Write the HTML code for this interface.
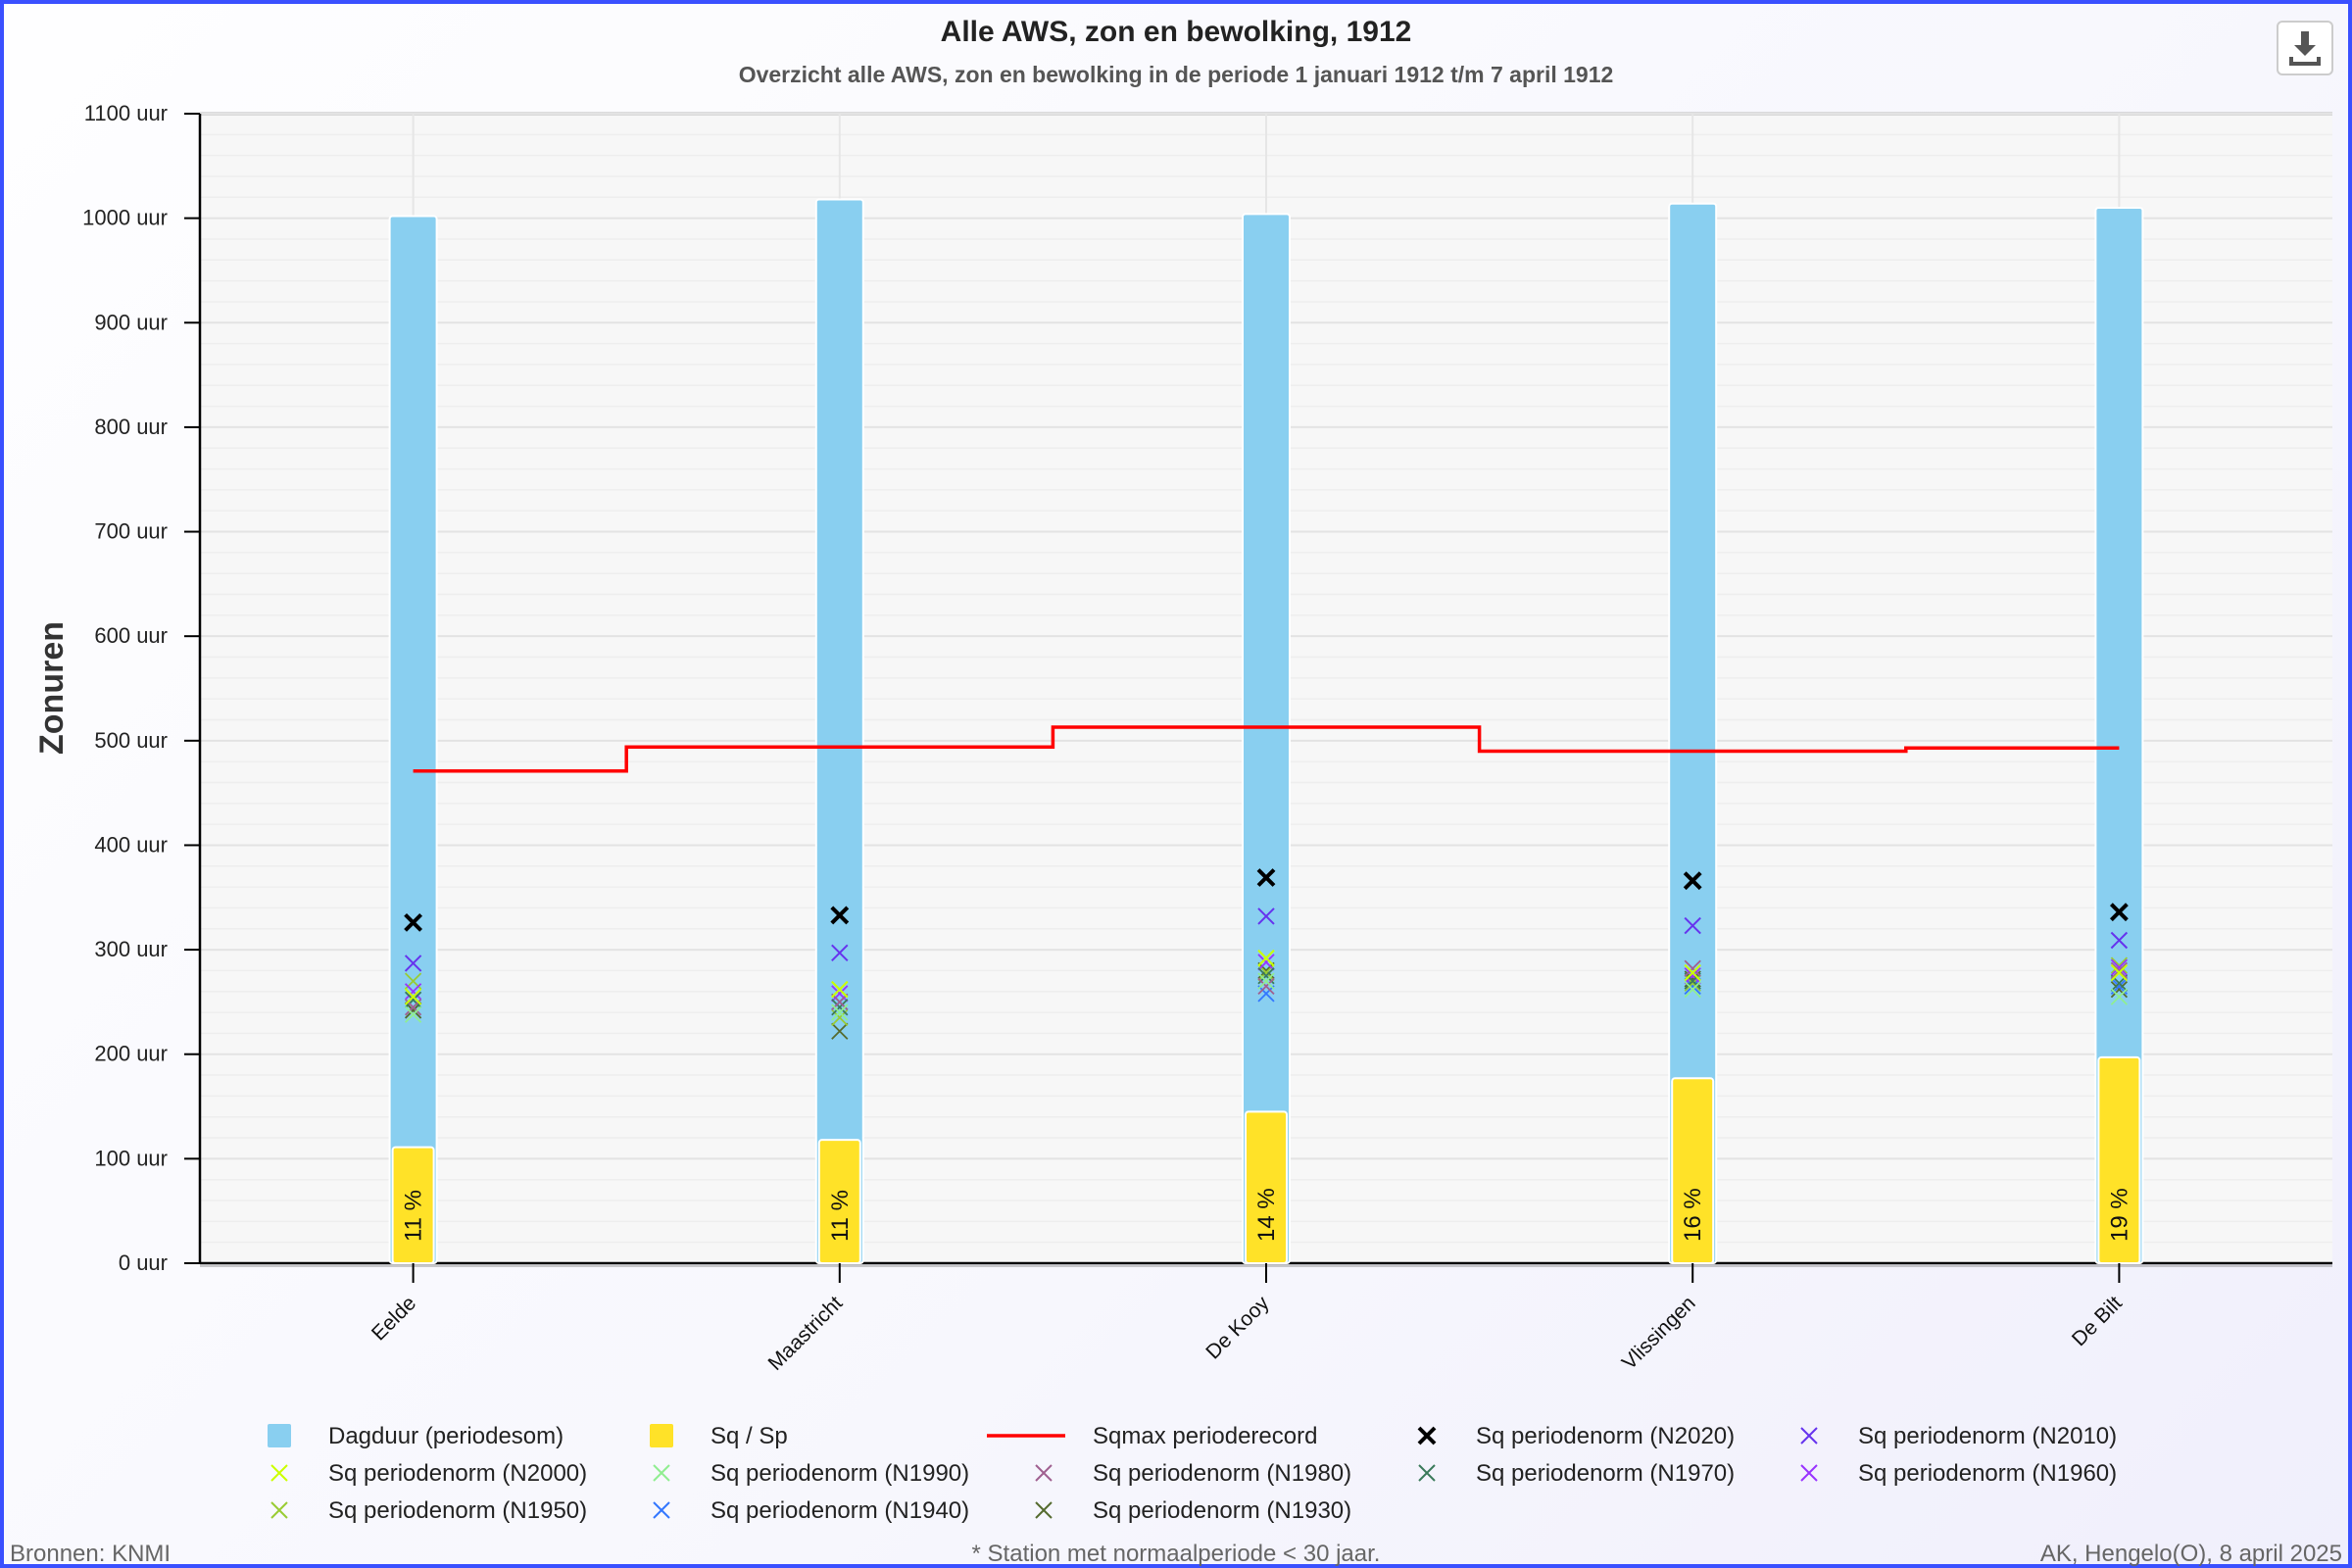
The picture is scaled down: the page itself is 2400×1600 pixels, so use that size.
<!DOCTYPE html>
<html><head><meta charset="utf-8"><style>
html,body{margin:0;padding:0;width:2400px;height:1600px;overflow:hidden;}
body{background:linear-gradient(135deg,#fefeff 0%,#f7f7fd 60%,#f0effc 100%);font-family:"Liberation Sans",sans-serif;}
#frame{position:absolute;left:0;top:0;width:2392px;height:1592px;border:4px solid #3a50ff;}
svg{position:absolute;left:0;top:0;}
</style></head><body>
<div id="frame"></div>
<svg id="chart" width="2400" height="1600" font-family="Liberation Sans, sans-serif"></svg>
<script>
const categories=["Eelde","Maastricht","De Kooy","Vlissingen","De Bilt"];
const dagduur=[1002,1018,1004,1014,1010];
const sq=[111,118,145,177,197];
const pct=["11 %","11 %","14 %","16 %","19 %"];
const sqmax=[471,494,513,490,493];
const n2020=[326,333,369,366,336];
const n2010=[287,297,332,323,309];
const n2000=[255,262,292,278,278];
const n1990=[238,240,270,262,255];
const n1980=[245,250,265,282,280];
const n1970=[252,245,275,270,268];
const n1960=[260,258,288,275,283];
const n1950=[270,235,278,268,285];
const n1940=[255,250,258,265,265];
const n1930=[242,222,280,272,262];
const yTicks=[0,100,200,300,400,500,600,700,800,900,1000,1100];
const yTickLabels=yTicks.map(v=>v+" uur");

const NS="http://www.w3.org/2000/svg";
const svg=document.getElementById('chart');
function mk(t,a,p){const e=document.createElementNS(NS,t);for(const k in a)e.setAttribute(k,a[k]);(p||svg).appendChild(e);return e;}
const L=204,R=2380,T=116,B=1289;
const yMax=1100;
function y(v){return B-(v/yMax)*(B-T);}
const cw=(R-L)/categories.length;
function x(i){return L+cw*(i+0.5);}

let t=mk('text',{x:1200,y:42,'text-anchor':'middle','font-size':30,'font-weight':'bold',fill:'#222'});t.textContent="Alle AWS, zon en bewolking, 1912";

t=mk('text',{x:1200,y:84,'text-anchor':'middle','font-size':23,'font-weight':'bold',fill:'#555'});t.textContent="Overzicht alle AWS, zon en bewolking in de periode 1 januari 1912 t/m 7 april 1912";


const dl=mk('g',{});

mk('rect',{x:2324,y:22,width:56,height:54,rx:5,fill:'#fff',stroke:'#ccc','stroke-width':2},dl);
mk('path',{d:'M2348 32h8v14h7l-11 11-11-11h7z',fill:'#555'},dl);
mk('path',{d:'M2336 58h4v5h24v-5h4v9h-32z',fill:'#555'},dl);

const bg=mk('rect',{x:L,y:T,width:R-L,height:B-T,fill:'#f7f7f7'});

mk('line',{x1:L,y1:T,x2:R,y2:T,stroke:'#bbb','stroke-width':3});
for(let v=0;v<=yMax;v+=20){mk('line',{x1:L,y1:y(v),x2:R,y2:y(v),stroke:v%100===0?'#e3e3e3':'#eeeeee','stroke-width':v%100===0?2:1.5});}
categories.forEach((c,i)=>{mk('line',{x1:x(i),y1:T,x2:x(i),y2:B,stroke:'#e6e6e6','stroke-width':2});});

mk('line',{x1:L,y1:T,x2:L,y2:B,stroke:'#000','stroke-width':2.5});
mk('line',{x1:L,y1:B,x2:R,y2:B,stroke:'#000','stroke-width':2.5});
mk('line',{x1:L,y1:B+3,x2:R,y2:B+3,stroke:'#999','stroke-width':2,opacity:0.5});
yTicks.forEach((v,i)=>{
 mk('line',{x1:L-16,y1:y(v),x2:L,y2:y(v),stroke:'#000','stroke-width':2});
 const tx=mk('text',{x:L-33,y:y(v)+7,'text-anchor':'end','font-size':22,fill:'#222'});tx.textContent=yTickLabels[i];
 
});
t=mk('text',{x:0,y:0,'text-anchor':'middle','font-size':34,'font-weight':'bold',fill:'#333',transform:'translate(64,702) rotate(-90)'});t.textContent="Zonuren";


categories.forEach((c,i)=>{
 const cx=x(i);
 const b=mk('rect',{x:cx-24,y:y(dagduur[i]),width:48,height:B-y(dagduur[i]),rx:3,fill:'#89cff0',stroke:'#fff','stroke-width':2});
 
 const s=mk('rect',{x:cx-21,y:y(sq[i]),width:42,height:B-y(sq[i]),rx:3,fill:'#ffe228',stroke:'#fff','stroke-width':2});
 
 const pl=mk('text',{x:0,y:0,'font-size':24,fill:'#111',transform:`translate(${cx+8},${B-22}) rotate(-90)`});pl.textContent=pct[i];
 
 mk('line',{x1:cx,y1:B,x2:cx,y2:B+20,stroke:'#000','stroke-width':2});
 const xl=mk('text',{x:0,y:0,'text-anchor':'end','font-size':21,fill:'#111',transform:`translate(${cx+4},${B+42}) rotate(-45)`});xl.textContent=c;
 
});

let d='';
sqmax.forEach((v,i)=>{
 const x0=i===0?x(0):L+cw*i, x1=i===sqmax.length-1?x(i):L+cw*(i+1);
 d+=(i===0?'M':'L')+x0+' '+y(v)+'L'+x1+' '+y(v);
});
const sl=mk('path',{d:d,fill:'none',stroke:'#ff0000','stroke-width':3.5});


const series=[
 [n1930,'#556b2f',1.8],[n1940,'#3377ff',1.8],[n1950,'#99cc33',1.8],[n1960,'#9933ff',1.8],[n1970,'#3a7a5a',1.8],
 [n1980,'#a06090',1.8],[n1990,'#90ee90',1.8],[n2000,'#ccff00',2],[n2010,'#6633ee',2],[n2020,'#000000',4]];
function cross(g,cx,cy,r,col,w){mk('path',{d:`M${cx-r} ${cy-r}L${cx+r} ${cy+r}M${cx+r} ${cy-r}L${cx-r} ${cy+r}`,stroke:col,'stroke-width':w,fill:'none'},g);}
series.forEach(s=>{
 s[0].forEach((v,i)=>{
  const g=mk('g',{});
  
  cross(g,x(i),y(v),8,s[1],s[2]);
 });
});

const legend=[
 ['rect','#89cff0','Dagduur (periodesom)'],['rect','#ffe228','Sq / Sp'],['line','#ff0000','Sqmax perioderecord'],['x','#000000','Sq periodenorm (N2020)',4],['x','#6633ee','Sq periodenorm (N2010)',2],
 ['x','#ccff00','Sq periodenorm (N2000)',2],['x','#90ee90','Sq periodenorm (N1990)',2],['x','#a06090','Sq periodenorm (N1980)',2],['x','#3a7a5a','Sq periodenorm (N1970)',2],['x','#9933ff','Sq periodenorm (N1960)',2],
 ['x','#99cc33','Sq periodenorm (N1950)',2],['x','#3377ff','Sq periodenorm (N1940)',2],['x','#556b2f','Sq periodenorm (N1930)',2]];
const colX=[285,675,1065,1456,1846], rowY=[1465,1503,1541];
legend.forEach((e,k)=>{
 const cx=colX[k%5], cy=rowY[Math.floor(k/5)];
 const g=mk('g',{});
 
 if(e[0]==='rect')mk('rect',{x:cx-12,y:cy-12,width:24,height:24,rx:2,fill:e[1]},g);
 else if(e[0]==='line')mk('line',{x1:cx-58,y1:cy,x2:cx+22,y2:cy,stroke:e[1],'stroke-width':3.5},g);
 else cross(g,cx,cy,8,e[1],e[3]);
 const tt=mk('text',{x:cx+50,y:cy+8,'font-size':24,fill:'#222'},g);tt.textContent=e[2];
});

[[10,'start','Bronnen: KNMI','source-note'],[1200,'middle','* Station met normaalperiode < 30 jaar.','footnote'],[2390,'end','AK, Hengelo(O), 8 april 2025','credit']].forEach(f=>{
 const tt=mk('text',{x:f[0],y:1593,'text-anchor':f[1],'font-size':24,fill:'#666'});tt.textContent=f[2];
 
});
</script>
</body></html>
